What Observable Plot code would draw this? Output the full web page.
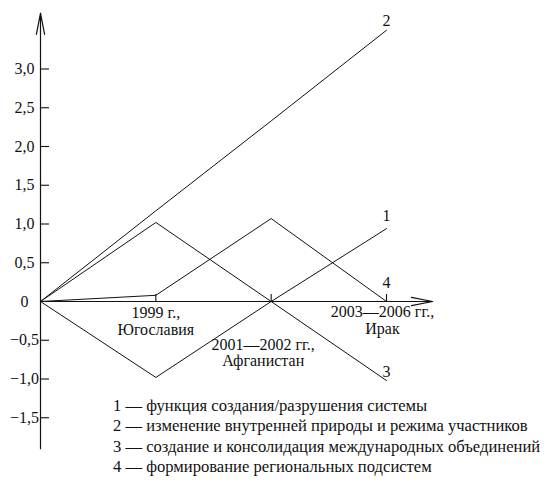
<!DOCTYPE html>
<html>
<head>
<meta charset="utf-8">
<script src="https://cdn.jsdelivr.net/npm/d3@7"></script>
<script src="https://cdn.jsdelivr.net/npm/@observablehq/plot@0.6"></script>
</head>
<body style="margin:0;background:white">
<div id="wrap" style="position:relative;width:547px;height:488px;font-family:'Liberation Serif', Tinos, 'Times New Roman', serif">
<div id="legend" style="position:absolute;left:113px;top:396px;font-size:16.6px;line-height:20.3px;color:#111;white-space:nowrap"></div>
</div>
<script>
// x positions: origin plus three events
const xIndex = [0, 1, 2, 3];
const categories = ["", "1999 г.,\nЮгославия", "2001—2002 гг.,\nАфганистан", "2003—2006 гг.,\nИрак"];
const seriesNames = ["1", "2", "3", "4"];
const series1 = [0, -0.98, 0, 0.94];
const series2 = [0, 1.17, 2.33, 3.5];
const series3 = [0, 1.02, 0, -1.02];
const series4 = [0, 0.08, 1.07, 0];
const yTicks = [-1.5, -1.0, -0.5, 0, 0.5, 1.0, 1.5, 2.0, 2.5, 3.0];
const legendItems = [
  "1 — функция создания/разрушения системы",
  "2 — изменение внутренней природы и режима участников",
  "3 — создание и консолидация международных объединений",
  "4 — формирование региональных подсистем"
];
// axis extents (data units)
const xAxisEnd = 3.4;
const yAxisExtent = [-1.9, 3.72];

const allSeries = [series1, series2, series3, series4];
const rows = allSeries.flatMap((vals, s) => vals.map((v, i) => ({series: seriesNames[s], x: xIndex[i], y: v})));
const lastPoints = allSeries.map((vals, s) => ({series: seriesNames[s], x: xIndex[vals.length - 1], y: vals[vals.length - 1]}));
const catRows = categories.map((c, i) => ({x: xIndex[i], label: c})).filter(d => d.label);

const fmt = d => d === 0 ? "0" : d.toFixed(1).replace(".", ",").replace("-", "−");
const FF = "'Liberation Serif', Tinos, 'Times New Roman', serif";
const T = {fill: "#111", fontFamily: FF, fontSize: 16};

const chart = Plot.plot({
  width: 547,
  height: 488,
  marginLeft: 40,
  marginTop: 0,
  marginRight: 0,
  marginBottom: 187,
  x: {type: "linear", domain: [0, 3], range: [40, 386], axis: null},
  y: {type: "linear", domain: [0, 1], range: [301, 223.5], axis: null},
  style: {fontFamily: FF, fontSize: "16px", background: "white", color: "#111"},
  marks: [
    Plot.arrow([{x1: 0, y1: 0, x2: xAxisEnd, y2: 0}], {x1: "x1", y1: "y1", x2: "x2", y2: "y2", stroke: "#111", strokeWidth: 1.2, headLength: 27, headAngle: 22}),
    Plot.arrow([{x1: 0, y1: yAxisExtent[0], x2: 0, y2: yAxisExtent[1]}], {x1: "x1", y1: "y1", x2: "x2", y2: "y2", stroke: "#111", strokeWidth: 1.2, headLength: 27, headAngle: 22}),
    Plot.ruleY(yTicks.filter(d => d !== 0), {y: d => d, x1: 0, x2: 0, insetRight: -9, stroke: "#111", strokeWidth: 1.1}),
    Plot.ruleX(xIndex.slice(1), {x: d => d, y1: 0, y2: 0, insetBottom: 7, stroke: "#111", strokeWidth: 1.1}),
    Plot.text(yTicks, {y: d => d, frameAnchor: "left", text: fmt, dx: -16, textAnchor: "middle", ...T}),
    Plot.line(rows, {x: "x", y: "y", z: "series", stroke: "#111", strokeWidth: 1}),
    Plot.text(lastPoints.filter(d => d.series === "2" || d.series === "3"), {x: "x", y: "y", text: "series", dy: -9, ...T}),
    Plot.text(lastPoints.filter(d => d.series === "1"), {x: "x", y: "y", text: "series", dy: -13, ...T}),
    Plot.text(lastPoints.filter(d => d.series === "4"), {x: "x", y: "y", text: "series", dy: -19, ...T}),
    Plot.text(catRows.filter(d => d.x === 1), {x: "x", y: 0, text: "label", lineAnchor: "top", dy: 4, lineHeight: 1.08, ...T}),
    Plot.text(catRows.filter(d => d.x === 2), {x: "x", y: 0, text: "label", lineAnchor: "top", dy: 37, dx: -8, lineHeight: 1.0, ...T}),
    Plot.text(catRows.filter(d => d.x === 3), {x: "x", y: 0, text: "label", lineAnchor: "top", dy: 3, dx: -4, lineHeight: 1.08, ...T})
  ]
});
const wrap = document.getElementById("wrap");
wrap.insertBefore(chart, wrap.firstChild);
const legend = document.getElementById("legend");
legendItems.forEach(t => {
  const d = document.createElement("div");
  d.textContent = t;
  legend.appendChild(d);
});
</script>
</body>
</html>
